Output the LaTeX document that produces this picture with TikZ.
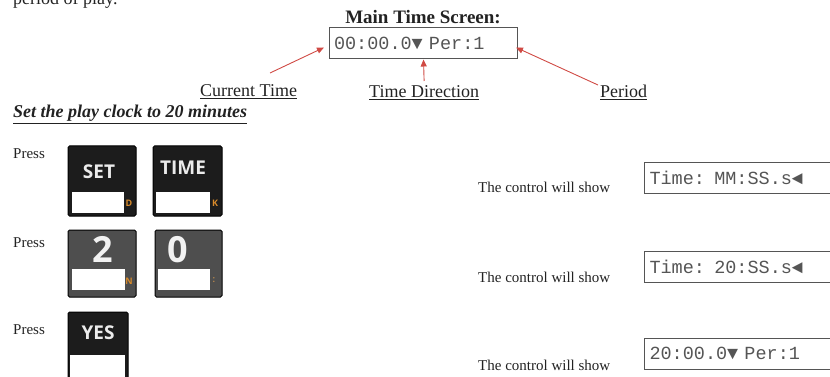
\documentclass[tikz,border=0pt]{standalone}
\usepackage{fontspec}
\setmainfont{Liberation Serif}
\setmonofont{Liberation Mono}
\newfontfamily\keyfont{Open Sans}
\usetikzlibrary{arrows.meta}

\definecolor{arrowred}{HTML}{D04A44}
\definecolor{lcdgray}{HTML}{555555}
\definecolor{keyblack}{HTML}{1C1C1C}
\definecolor{keygray}{HTML}{4E4E4E}
\definecolor{keyorange}{HTML}{D88A2A}
\definecolor{inkgray}{HTML}{222222}

\begin{document}
\begin{tikzpicture}[x=1pt, y=-1pt,
  every node/.style={inner sep=0pt, text=inkgray},
  lcd/.style={draw=lcdgray, line width=1pt, text=lcdgray, anchor=west,
    font=\ttfamily\fontsize{18.5}{20}\selectfont, inner xsep=5pt,
    align=left, minimum height=31pt},
  callout/.style={anchor=base west, font=\fontsize{18}{20}\selectfont},
  step text/.style={anchor=base west, font=\fontsize{15}{17}\selectfont},
  pointer/.style={draw=arrowred, line width=0.9pt, -{Triangle[length=7pt, width=6pt]}},
  keyframe/.style={draw=black, line width=1pt, rounded corners=1.5pt},
  keytext/.style={text=white!92!black, font=\keyfont\bfseries\fontsize{19}{20}\selectfont},
  keydigit/.style={anchor=base, text=white!95!black, font=\keyfont\bfseries\fontsize{36}{38}\selectfont},
  keytag/.style={text=keyorange, font=\keyfont\bfseries\fontsize{9}{10}\selectfont}]
\useasboundingbox (0,0) rectangle (830,377);
\clip (0,0) rectangle (830,377);

% heading and main screen
\node[callout] (Intro) at (13,5) {period of play.};
\node[anchor=base, font=\bfseries\fontsize{19}{21}\selectfont] (MSTitle) at (423,24) {Main Time Screen:};
\node[lcd, text width=179pt, inner xsep=4.5pt] (MSBox) at (329,43.5) {00:00.0▼ Per:1};

\node[callout] (LCur) at (200,97) {\underline{Current Time}};
\node[callout] (LDir) at (369,98) {\underline{Time Direction}};
\node[callout] (LPer) at (600,98) {\underline{Period}};
\coordinate (LCurTail) at (270,73);
\coordinate (LPerTail) at (598,85);
\draw[pointer] (LCurTail) -- ([xshift=-5pt, yshift=-4pt]MSBox.west);
\draw[pointer] ([yshift=17pt]LDir.base) -- (MSBox.south);
\draw[pointer] (LPerTail) -- ([xshift=-2pt, yshift=-4pt]MSBox.east);

\node[anchor=base west, font=\bfseries\itshape\fontsize{18}{20}\selectfont] (Task) at (13,118) {\underline{Set the play clock to 20 minutes}};

% row 1
\node[step text] (P1) at (13,158) {Press};
\draw[keyframe, fill=keyblack] (68,146) rectangle (136,216);
\fill[white] (72,192) rectangle (124,213);
\node[keytext] (KSet) at (99,172) {SET};
\node[keytag] (KSetTag) at (129,203) {D};
\draw[keyframe, fill=keyblack] (153,146) rectangle (222,216);
\fill[white] (156,192) rectangle (210,213);
\node[keytext] (KTime) at (183,168) {TIME};
\node[keytag] (KTimeTag) at (215,203) {K};
\node[step text] (S1) at (478,193) {The control will show};
\node[lcd, text width=200pt] (D1) at (644,178) {Time: MM:SS.s◄};

% row 2
\node[step text] (P2) at (13,247) {Press};
\draw[keyframe, fill=keygray] (68,230) rectangle (136,297);
\fill[white] (72,269) rectangle (125,290);
\node[keydigit] (K2) at (103,262) {2};
\node[keytag] (K2Tag) at (129,281) {N};
\draw[keyframe, fill=keygray] (155,230) rectangle (222,297);
\fill[white] (158,269) rectangle (210,290);
\node[keydigit] (K0) at (178,262) {0};
\node[keytag, text=keyorange!60!gray] (K0Tag) at (214,280) {:};
\node[step text] (S2) at (478,282) {The control will show};
\node[lcd, text width=200pt] (D2) at (644,266.5) {Time: 20:SS.s◄};

% row 3
\node[step text] (P3) at (13,334) {Press};
\draw[keyframe, fill=keyblack] (68,312) rectangle (128,390);
\fill[white] (70,355) rectangle (125,390);
\node[keytext] (KYes) at (98,333) {YES};
\node[step text] (S3) at (478,370) {The control will show};
\node[lcd, text width=200pt] (D3) at (644,353.5) {20:00.0▼ Per:1};
\end{tikzpicture}
\end{document}
